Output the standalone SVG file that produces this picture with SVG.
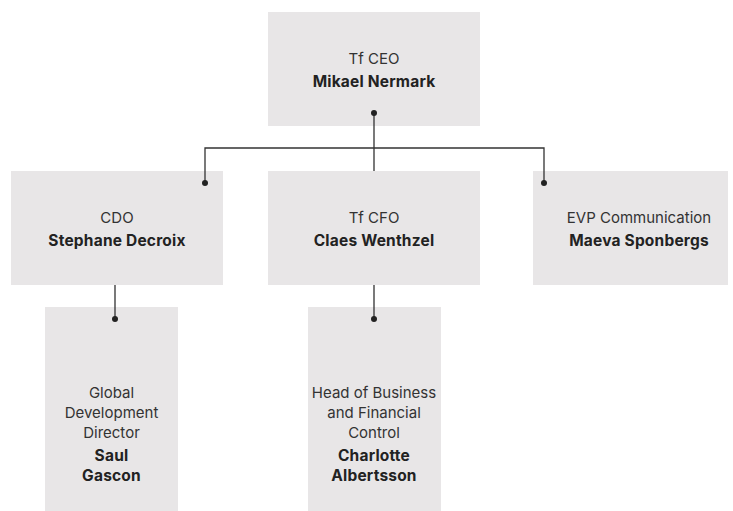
<svg xmlns="http://www.w3.org/2000/svg" width="733" height="511" viewBox="0 0 733 511">
<style>
.box{fill:#e8e6e7}
.t{font-family:Inter,"Liberation Sans",sans-serif;font-size:15px;fill:#333;text-anchor:middle}
.b{font-weight:bold;font-size:15.5px;letter-spacing:0.2px;fill:#222}
.ln{stroke:#333;stroke-width:1.3;fill:none}
.dot{fill:#222}
</style>
<rect width="733" height="511" fill="#fff"/>
<g id="ceo"><rect class="box" x="268" y="12" width="212" height="114"/>
<text class="t" x="374" y="64">Tf CEO</text><text class="t b" x="374" y="87">Mikael Nermark</text></g>
<g id="cdo"><rect class="box" x="11" y="171" width="212" height="114"/>
<text class="t" x="117" y="223">CDO</text><text class="t b" x="117" y="246">Stephane Decroix</text></g>
<g id="cfo"><rect class="box" x="268" y="171" width="212" height="114"/>
<text class="t" x="374" y="223">Tf CFO</text><text class="t b" x="374" y="246">Claes Wenthzel</text></g>
<g id="evp"><rect class="box" x="533" y="171" width="195" height="114"/>
<text class="t" x="639" y="223">EVP Communication</text><text class="t b" x="639" y="246">Maeva Sponbergs</text></g>
<g id="gdd"><rect class="box" x="45" y="307" width="133" height="204"/>
<text class="t" x="111.5" y="398">Global</text><text class="t" x="111.5" y="418">Development</text><text class="t" x="111.5" y="438">Director</text>
<text class="t b" x="111.5" y="461">Saul</text><text class="t b" x="111.5" y="481">Gascon</text></g>
<g id="hbfc"><rect class="box" x="308" y="307" width="133" height="204"/>
<text class="t" x="374" y="398">Head of Business</text><text class="t" x="374" y="418">and Financial</text><text class="t" x="374" y="438">Control</text>
<text class="t b" x="374" y="461">Charlotte</text><text class="t b" x="374" y="481">Albertsson</text></g>
<g id="connectors">
<path class="ln" d="M374 113V171M205 183V148H544V183M115 285V319M374 285V319"/>
<circle class="dot" cx="374" cy="113" r="3"/>
<circle class="dot" cx="205" cy="183" r="3"/>
<circle class="dot" cx="544" cy="183" r="3"/>
<circle class="dot" cx="115" cy="319" r="3"/>
<circle class="dot" cx="374" cy="319" r="3"/>
</g>
</svg>
